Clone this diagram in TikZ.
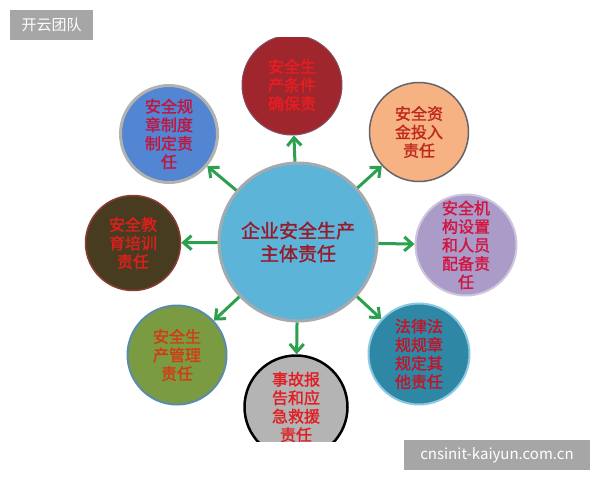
\documentclass[tikz,border=0pt]{standalone}
\usepackage{fontspec}
\newfontfamily\cjk{Noto Sans CJK SC}
\newfontfamily\cjkb{Noto Sans CJK SC}[FakeBold=1.5]
\usetikzlibrary{arrows.meta}
\definecolor{arrowgreen}{RGB}{43,160,79}
\definecolor{markgray}{RGB}{166,166,166}
\tikzset{
  ring/.style={circle, inner sep=0pt, minimum size=#1, align=center},
  small/.style={font=\cjkb\fontsize{16}{18.5}\selectfont},
  link/.style={draw=arrowgreen, line width=3pt, -{Straight Barb[length=8pt,width=14pt,line width=3pt]}},
  wmark/.style={fill=markgray, text=white, inner sep=0pt, font=\cjk\fontsize{15}{17}\selectfont}
}
\begin{document}
\begin{tikzpicture}[x=1pt,y=-1pt]
\useasboundingbox (0,0) rectangle (600,480);
\fill[white] (0,0) rectangle (600,480);
\begin{scope}
\clip (0,37) rectangle (600,441);
\node[ring=158pt, fill={rgb,255:red,92;green,180;blue,216}, draw={rgb,255:red,165;green,170;blue,175}, line width=3pt,
  text={rgb,255:red,150;green,28;blue,45}, font=\cjkb\fontsize{19}{23}\selectfont] (c) at (298,242) {企业安全生产\\主体责任};
\node[ring=100pt, small, fill={rgb,255:red,160;green,38;blue,45}, draw={rgb,255:red,130;green,80;blue,100}, line width=1pt,
  text={rgb,255:red,230;green,30;blue,35}] (t) at (292,85) {安全生\\产条件\\确保责};
\node[ring=97pt, small, fill={rgb,255:red,82;green,133;blue,210}, draw={rgb,255:red,178;green,178;blue,178}, line width=3pt,
  text={rgb,255:red,195;green,20;blue,60}] (ul) at (169,134) {安全规\\章制度\\制定责\\任};
\node[ring=99pt, small, fill={rgb,255:red,246;green,178;blue,130}, draw={rgb,255:red,100;green,100;blue,105}, line width=1.5pt,
  text={rgb,255:red,190;green,40;blue,30}] (ur) at (419,132) {安全资\\金投入\\责任};
\node[ring=95pt, small, fill={rgb,255:red,72;green,60;blue,32}, draw={rgb,255:red,140;green,60;blue,50}, line width=1.5pt,
  text={rgb,255:red,225;green,30;blue,30}] (l) at (133,243) {安全教\\育培训\\责任};
\node[ring=101pt, small, fill={rgb,255:red,170;green,155;blue,200}, draw={rgb,255:red,205;green,198;blue,220}, line width=2pt,
  text={rgb,255:red,210;green,20;blue,65}] (r) at (466,245) {安全机\\构设置\\和人员\\配备责\\任};
\node[ring=99pt, small, fill={rgb,255:red,122;green,155;blue,66}, draw={rgb,255:red,90;green,140;blue,170}, line width=2pt,
  text={rgb,255:red,210;green,60;blue,20}] (ll) at (177,355) {安全生\\产管理\\责任};
\node[ring=101pt, small, fill={rgb,255:red,45;green,135;blue,165}, draw={rgb,255:red,140;green,200;blue,225}, line width=2pt,
  text={rgb,255:red,195;green,20;blue,40}] (lr) at (419,354) {法律法\\规规章\\规定其\\他责任};
\node[ring=103pt, small, fill={rgb,255:red,180;green,180;blue,180}, draw=black, line width=2.5pt,
  text={rgb,255:red,225;green,30;blue,35}] (b) at (296,407) {事故报\\告和应\\急救援\\责任};
\foreach \n in {t,ul,ur,l,r,ll,lr,b} \draw[link] (c) -- (\n);
\end{scope}
\node[wmark, minimum width=83pt, minimum height=30pt] (wm1) at (51.5,24.5) {开云团队};
\node[wmark, minimum width=186pt, minimum height=30pt] (wm2) at (497,455) {cnsinit-kaiyun.com.cn};
\end{tikzpicture}
\end{document}
